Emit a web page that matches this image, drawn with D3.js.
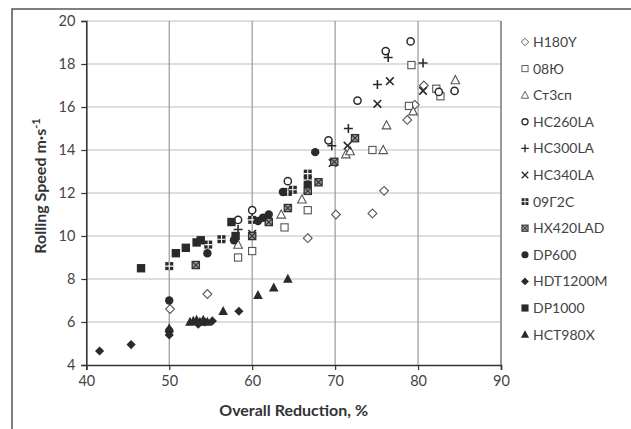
<!DOCTYPE html>
<html><head><meta charset="utf-8">
<script src="https://cdn.jsdelivr.net/npm/d3@7"></script>
<style>
body{margin:0;background:#fff;}
text{font-family:Lato, "Open Sans", sans-serif;}
</style></head>
<body><svg id="c" width="631" height="429"></svg>
<script>
// ---- data ----
const seriesNames = ["H180Y","08Ю","Ст3сп","HC260LA","HC300LA","HC340LA","09Г2С","HX420LAD","DP600","HDT1200M","DP1000","HCT980X"];
const xTicks = [40,50,60,70,80,90];
const yTicks = [4,6,8,10,12,14,16,18,20];

const H180Y = [[50.1,6.6],[54.6,7.3],[66.7,9.9],[70.1,11.0],[74.5,11.05],[75.9,12.1],[78.7,15.4],[79.6,16.1],[80.7,17.0]];
const S08U = [[58.3,9.0],[60.0,9.3],[63.9,10.4],[66.7,11.2],[74.5,14.0],[78.9,16.05],[79.2,17.95],[82.2,16.85],[82.7,16.5]];
const St3sp = [[58.3,9.6],[63.5,11.0],[66.0,11.7],[71.3,13.8],[71.8,13.95],[75.8,14.0],[76.2,15.15],[79.4,15.8],[84.5,17.25]];
const HC260LA = [[58.3,10.75],[60.0,11.2],[64.3,12.55],[69.2,14.45],[72.7,16.3],[76.1,18.6],[79.1,19.05],[82.5,16.7],[84.4,16.75]];
const HC300LA = [[58.3,10.3],[60.0,10.8],[64.6,12.1],[69.6,14.2],[71.6,15.0],[75.1,17.05],[76.4,18.3],[80.6,18.05]];
const HC340LA = [[60.0,10.1],[66.7,12.15],[69.7,13.4],[71.5,14.2],[75.1,16.15],[76.6,17.2],[80.6,16.75]];
const S09G2S = [[50.0,8.6],[54.7,9.6],[56.3,9.85],[60.0,10.75],[64.3,12.05],[64.9,12.15],[66.7,12.6],[66.7,12.9]];
const HX420LAD = [[53.2,8.65],[60.0,10.0],[62.0,10.65],[64.3,11.3],[66.7,12.1],[68.0,12.5],[69.9,13.45],[72.4,14.55]];
const DP600 = [[50.0,7.0],[50.0,5.6],[54.6,9.2],[57.8,9.8],[60.7,10.7],[61.3,10.85],[62.0,11.0],[63.7,12.05],[66.7,12.4],[67.6,13.9]];
const HDT1200M = [[41.6,4.65],[45.4,4.95],[50.0,5.4],[53.5,5.9],[54.3,6.0],[55.2,6.05],[58.4,6.5]];
const DP1000 = [[46.6,8.5],[50.8,9.2],[52.0,9.45],[53.3,9.7],[53.8,9.8],[57.5,10.65],[58.0,10.0]];
const HCT980X = [[50.0,5.7],[52.5,6.0],[52.9,6.05],[53.3,6.1],[53.7,6.0],[54.1,6.1],[54.6,6.0],[56.5,6.5],[60.7,7.25],[62.6,7.6],[64.3,8.0]];

const seriesData = [H180Y,S08U,St3sp,HC260LA,HC300LA,HC340LA,S09G2S,HX420LAD,DP600,HDT1200M,DP1000,HCT980X];
const seriesMarkers = ["diamondOpen","squareOpen","triangleOpen","circleOpen","plus","times","squareCross","squareX","circle","diamond","square","triangle"];

// ---- layout ----
const svg = d3.select("#c");
const x = d3.scaleLinear().domain([40,90]).range([86.3,501]);
const y = d3.scaleLinear().domain([4,20]).range([365,21]);
const ink = "#2a2a2a";

// outer frame
svg.append("path").attr("d","M12,429 L12,9 L631,9").attr("fill","none").attr("stroke","#555").attr("stroke-width",1.5);

// grid
svg.append("g").selectAll("line").data(yTicks.filter(d=>d>4)).join("line")
  .attr("x1",x(40)).attr("x2",x(90)).attr("y1",d=>y(d)).attr("y2",d=>y(d))
  .attr("stroke","#bdbdbd").attr("stroke-width",1.2);
svg.append("g").selectAll("line").data(xTicks.filter(d=>d>40)).join("line")
  .attr("y1",y(4)).attr("y2",y(20)).attr("x1",d=>x(d)).attr("x2",d=>x(d))
  .attr("stroke",d=>d===90?"#777":"#999").attr("stroke-width",d=>d===90?1.5:1.2);

// axes
const xAxis = svg.append("g").attr("transform",`translate(0,${y(4)})`)
  .call(d3.axisBottom(x).tickValues(xTicks).tickSize(5).tickPadding(6));
const yAxis = svg.append("g").attr("transform",`translate(${x(40)},0)`)
  .call(d3.axisLeft(y).tickValues(yTicks).tickSize(5).tickPadding(6));
[xAxis,yAxis].forEach(a=>{
  a.select(".domain").attr("stroke","#333").attr("stroke-width",1.6);
  a.selectAll(".tick line").attr("stroke","#333").attr("stroke-width",1.2);
  a.selectAll(".tick text").attr("fill","#444").style("font-size","14.5px").style("font-family","Lato, sans-serif");
});

// titles
svg.append("text").attr("x",(x(40)+x(90))/2).attr("y",416).attr("text-anchor","middle")
  .attr("fill","#333").style("font-size","16px").style("font-weight","bold").text("Overall Reduction, %");
const yt = svg.append("text").attr("transform","translate(46,186) rotate(-90)").attr("text-anchor","middle")
  .attr("fill","#333").style("font-size","16px").style("font-weight","bold");
yt.append("tspan").text("Rolling Speed m·s");
yt.append("tspan").attr("dy",-6).style("font-size","11px").text("-1");

// markers
function drawMarker(g, type){
  const s = 3.6;
  switch(type){
    case "diamondOpen": g.append("path").attr("d",`M0,${-4.4}L4.4,0L0,4.4L-4.4,0Z`).attr("fill","#fff").attr("stroke","#555").attr("stroke-width",1.1); break;
    case "squareOpen": g.append("rect").attr("x",-s).attr("y",-s).attr("width",2*s).attr("height",2*s).attr("fill","#fff").attr("stroke","#555").attr("stroke-width",1.1); break;
    case "triangleOpen": g.append("path").attr("d",`M0,-4.6L4.3,3.6L-4.3,3.6Z`).attr("fill","#fff").attr("stroke","#555").attr("stroke-width",1.1); break;
    case "circleOpen": g.append("circle").attr("r",3.6).attr("fill","#fff").attr("stroke",ink).attr("stroke-width",1.5); break;
    case "plus": g.append("path").attr("d","M-4.5,0H4.5M0,-4.5V4.5").attr("stroke",ink).attr("stroke-width",1.6); break;
    case "times": g.append("path").attr("d","M-3.8,-3.8L3.8,3.8M-3.8,3.8L3.8,-3.8").attr("stroke",ink).attr("stroke-width",1.6); break;
    case "squareCross":
      g.append("rect").attr("x",-4).attr("y",-4).attr("width",8).attr("height",8).attr("fill",ink);
      g.append("path").attr("d","M-4,0H4M0,-4V4").attr("stroke","#fff").attr("stroke-width",1.1); break;
    case "squareX":
      g.append("rect").attr("x",-3.6).attr("y",-3.6).attr("width",7.2).attr("height",7.2).attr("fill","#999").attr("stroke","#333").attr("stroke-width",1.3);
      g.append("path").attr("d","M-3,-3L3,3M-3,3L3,-3").attr("stroke","#333").attr("stroke-width",1.1); break;
    case "circle": g.append("circle").attr("r",4.2).attr("fill",ink); break;
    case "diamond": g.append("path").attr("d",`M0,-4.6L4.6,0L0,4.6L-4.6,0Z`).attr("fill",ink); break;
    case "square": g.append("rect").attr("x",-4.2).attr("y",-4.2).attr("width",8.4).attr("height",8.4).attr("fill",ink); break;
    case "triangle": g.append("path").attr("d",`M0,-5.2L4.8,3.8L-4.8,3.8Z`).attr("fill",ink); break;
  }
}

const plot = svg.append("g");
seriesData.forEach((data,i)=>{
  plot.append("g").selectAll("g").data(data).join("g")
    .attr("transform",d=>`translate(${x(d[0])},${y(d[1])})`)
    .each(function(){ drawMarker(d3.select(this), seriesMarkers[i]); });
});

// legend
const leg = svg.append("g");
seriesNames.forEach((n,i)=>{
  const ly = 42 + i*26.6;
  const g = leg.append("g").attr("transform",`translate(525,${ly})`);
  const mg = g.append("g").attr("transform","scale(0.85)");
  drawMarker(mg, seriesMarkers[i]);
  g.append("text").attr("x",8).attr("y",5).attr("fill","#444").style("font-size","14px").text(n);
});
</script></body></html>
